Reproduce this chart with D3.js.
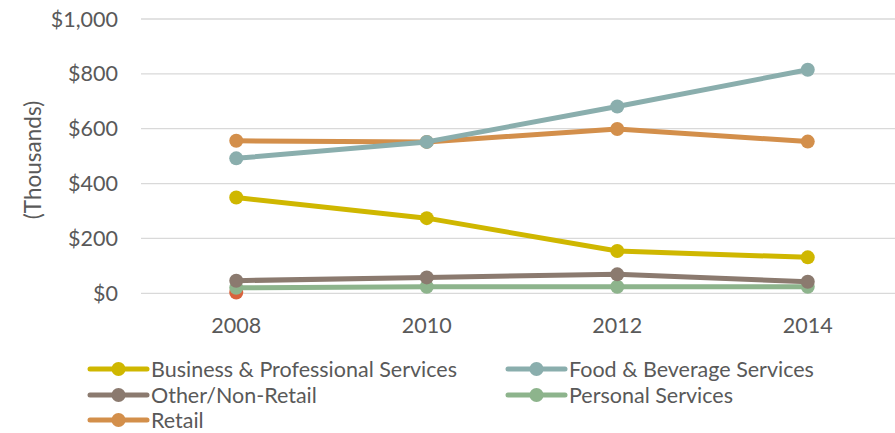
<!DOCTYPE html>
<html>
<head>
<meta charset="utf-8">
<script src="https://cdn.jsdelivr.net/npm/d3@7/dist/d3.min.js"></script>
<style>
  html, body { margin: 0; padding: 0; background: #fff; }
  svg { display: block; font-family: Lato, "Open Sans", sans-serif; }
</style>
</head>
<body>
<svg id="chart" width="895" height="433"></svg>
<script>
// Annual sales by business category, in thousands of dollars
const years = ["2008", "2010", "2012", "2014"];
const yTicks = [0, 200, 400, 600, 800, 1000];

const businessProfessional = [349, 274, 154, 131];
const foodBeverage = [492, 552, 681, 815];
const otherNonRetail = [46, 58, 69, 42];
const personalServices = [20, 24, 24, 24];
const retail = [556, 552, 599, 553];
const unlisted = [3];            // single 2008 point, not in legend

const seriesNames = ["Business & Professional Services", "Food & Beverage Services",
                     "Other/Non-Retail", "Personal Services", "Retail"];
const seriesColors = ["#CFB700", "#8AAEAD", "#8B7A6F", "#8DB48C", "#D38F4B"];

const series = [
  { name: seriesNames[0], values: businessProfessional, color: seriesColors[0] },
  { name: seriesNames[1], values: foodBeverage, color: seriesColors[1] },
  { name: seriesNames[2], values: otherNonRetail, color: seriesColors[2] },
  { name: seriesNames[3], values: personalServices, color: seriesColors[3] },
  { name: seriesNames[4], values: retail, color: seriesColors[4] }
];

const svg = d3.select("#chart");
const margin = { left: 141, right: -8, top: 19, bottom: 140 };
const W = 895, H = 433;
const fontSize = 21.5;

const x = d3.scaleBand().domain(years).range([margin.left, W - margin.right]);
const y = d3.scaleLinear().domain([0, 1000]).range([293.3, margin.top]);
const cx = d => x(d) + x.bandwidth() / 2;

// gridlines
svg.append("g").selectAll("line").data(yTicks).join("line")
  .attr("x1", margin.left).attr("x2", W)
  .attr("y1", d => y(d)).attr("y2", d => y(d))
  .attr("stroke", "#D9D9D9").attr("stroke-width", 1.3);

// y tick labels
const fmt = d3.format("$,");
svg.append("g").selectAll("text").data(yTicks).join("text")
  .attr("x", 118).attr("y", d => y(d))
  .attr("dy", "0.35em").attr("text-anchor", "end")
  .attr("fill", "#595959").attr("font-size", fontSize)
  .text(d => fmt(d));

// x tick labels
svg.append("g").selectAll("text").data(years).join("text")
  .attr("x", d => cx(d)).attr("y", 333)
  .attr("text-anchor", "middle")
  .attr("fill", "#595959").attr("font-size", fontSize)
  .text(d => d);

// y axis title
svg.append("text")
  .attr("transform", "translate(41,160) rotate(-90)")
  .attr("text-anchor", "middle")
  .attr("fill", "#595959").attr("font-size", 22.5)
  .text("(Thousands)");

const line = d3.line().x((d, i) => cx(years[i])).y(d => y(d));

// unlisted point drawn first so it sits beneath the others
svg.append("g").selectAll("circle").data(unlisted).join("circle")
  .attr("cx", (d, i) => cx(years[i])).attr("cy", d => y(d))
  .attr("r", 7).attr("fill", "#D9623C");

// draw series back to front
const drawOrder = [3, 2, 0, 4, 1];
drawOrder.forEach(k => {
  const s = series[k];
  const g = svg.append("g");
  g.append("path").datum(s.values)
    .attr("d", line).attr("fill", "none")
    .attr("stroke", s.color).attr("stroke-width", 5)
    .attr("stroke-linejoin", "round");
  g.selectAll("circle").data(s.values).join("circle")
    .attr("cx", (d, i) => cx(years[i])).attr("cy", d => y(d))
    .attr("r", 7).attr("fill", s.color);
});

// legend
const legendPos = [
  { x: 90, y: 369 }, { x: 508, y: 369 },
  { x: 90, y: 395 }, { x: 508, y: 395 },
  { x: 90, y: 420 }
];
series.forEach((s, i) => {
  const p = legendPos[i];
  const g = svg.append("g").attr("transform", `translate(${p.x},${p.y})`);
  g.append("line").attr("x1", 0).attr("x2", 57).attr("y1", 0).attr("y2", 0)
    .attr("stroke", s.color).attr("stroke-width", 5).attr("stroke-linecap", "round");
  g.append("circle").attr("cx", 28.5).attr("cy", 0).attr("r", 7).attr("fill", s.color);
  g.append("text").attr("x", 61).attr("y", 0).attr("dy", "0.35em")
    .attr("fill", "#595959").attr("font-size", fontSize)
    .text(s.name);
});
</script>
</body>
</html>
